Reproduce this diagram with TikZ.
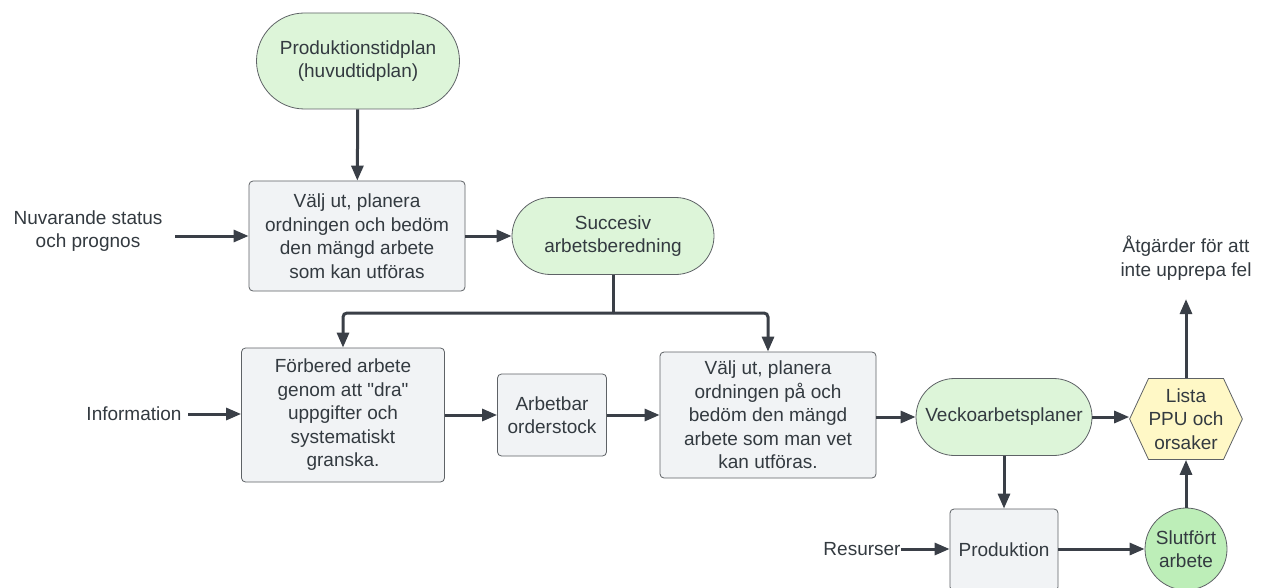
\documentclass[tikz,border=0pt]{standalone}
\usepackage{fontspec}
\setmainfont{Liberation Sans}
\usetikzlibrary{arrows.meta,positioning,shapes.misc,shapes.symbols}
\definecolor{termgreen}{HTML}{DDF5D9}
\definecolor{donegreen}{HTML}{BDEEB8}
\definecolor{procgray}{HTML}{F1F3F5}
\definecolor{listyellow}{HTML}{FFF8C6}
\definecolor{edgegray}{HTML}{5E6266}
\definecolor{flowdark}{HTML}{3A3F47}
\definecolor{txtdark}{HTML}{333A40}

\begin{document}
\begin{tikzpicture} [x=1pt,y=-1pt,font=\fontsize{19}{23.5}\selectfont,text=txtdark,proc/.style={rectangle,rounded corners=4pt,draw=edgegray,fill=procgray,line width=0.8pt,inner sep=0pt,align=center},term/.style={rounded rectangle,draw=edgegray,fill=termgreen,line width=0.8pt,inner sep=0pt,align=center},lbl/.style={align=center,inner sep=0pt},flow/.style={draw=flowdark,line width=3pt,-{Triangle[length=15pt,width=12pt]}}]
		%frame
		\fill [white] (0,0) rectangle (1268,588);
		\useasboundingbox (0,0) rectangle (1268,588);
		%%top row
		\node at (358,61) [term,minimum width=203pt,minimum height=96pt] (tidplan) {Produktionstidplan\\(huvudtidplan)};
		\node at (357,236) [proc,minimum width=216pt,minimum height=110pt] (valj) {Välj ut, planera\\ordningen och bedöm\\den mängd arbete\\som kan utföras};
		\node at (613,236) [term,minimum width=202pt,minimum height=77pt] (succ) {Succesiv\\arbetsberedning};
		\node at (88,231) [lbl] (status) {Nuvarande status\\och prognos};
		%%middle row
		\node at (343,415) [proc,minimum width=203pt,minimum height=134pt] (forb) {Förbered arbete\\genom att \textquotedbl dra\textquotedbl\\uppgifter och\\systematiskt\\granska.};
		\node at (552,415) [proc,minimum width=109pt,minimum height=82pt] (order) {Arbetbar\\orderstock};
		\node at (768,415) [proc,minimum width=216pt,minimum height=126pt] (vecko) {Välj ut, planera\\ordningen på och\\bedöm den mängd\\arbete som man vet\\kan utföras.};
		\node at (1004,417) [term,minimum width=176pt,minimum height=77pt] (plan) {Veckoarbetsplaner};
		\node at (1186,419) [signal,signal to=east and west,signal pointer angle=130,draw=edgegray,fill=listyellow,line width=0.8pt,inner sep=0pt,minimum width=106pt,minimum height=81pt,align=center] (ppu) {Lista\\PPU och\\orsaker};
		\node at (134,414) [lbl] (info) {Information};
		\node at (1186,258) [lbl] (atg) {Åtgärder för att\\inte upprepa fel};
		%%bottom row
		\node at (1004,550) [proc,minimum width=108pt,minimum height=82pt] (prod) {Produktion};
		\node at (1186,549) [circle,draw=edgegray,fill=donegreen,line width=0.8pt,inner sep=0pt,minimum size=82pt,align=center] (klar) {Slutfört\\arbete};
		\node at (862,549) [lbl] (res) {Resurser};
		\coordinate (split) at (613,313);
		\coordinate (statusend) at (175,236);
		\coordinate (infoend) at (188,414);
		%%connectors
		\draw [flow] (statusend) -- (valj.west |- statusend);
		\draw [flow] (tidplan) -- (valj);
		\draw [flow] (valj) -- (succ);
		\draw [draw=flowdark,line width=3pt] (succ.south) -- (split);
		\draw [flow,rounded corners=4pt] (split) -| (forb.north);
		\draw [flow,rounded corners=4pt] (split) -| (vecko.north);
		\draw [flow] (infoend) -- (forb.west |- infoend);
		\draw [flow] (forb.east |- order.west) -- (order.west);
		\draw [flow] (order) -- (vecko.west |- order.east);
		\draw [flow] (vecko.east |- plan.west) -- (plan.west);
		\draw [flow] (plan.east) -- (ppu.west |- plan.east);
		\draw [flow] (ppu.north) -- ++(0,-79);
		\draw [flow] (plan.south) -- (prod.north);
		\draw [flow] (res.east) -- (prod.west |- res.east);
		\draw [flow] (prod.east |- klar.west) -- (klar.west);
		\draw [flow] (klar) -- (ppu);
	\end{tikzpicture}
\end{document}
